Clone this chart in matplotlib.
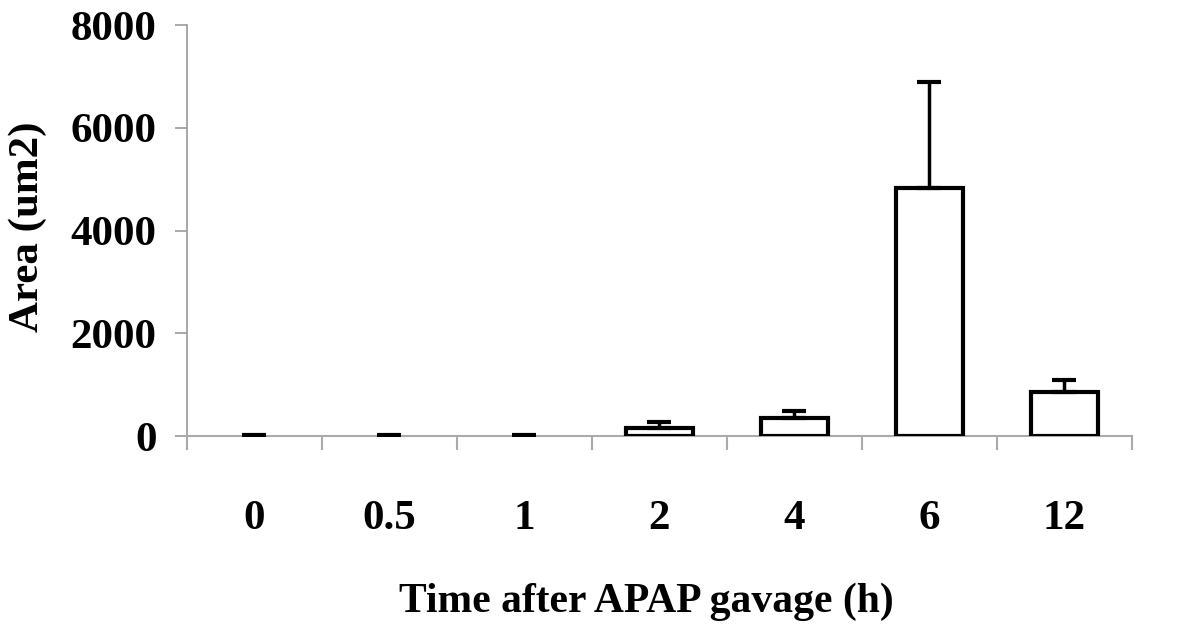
import matplotlib
matplotlib.use("Agg")
import matplotlib.pyplot as plt
import numpy as np

# Data
time_labels = ["0", "0.5", "1", "2", "4", "6", "12"]
area_mean = [0, 0, 0, 160, 360, 4830, 850]
area_err = [12, 12, 12, 115, 130, 2060, 240]

plt.rcParams['font.family'] = ['Liberation Serif', 'DejaVu Serif']
plt.rcParams['font.weight'] = 'bold'

fig = plt.figure(figsize=(12, 6.33), dpi=100)
ax = fig.add_axes([0.1558, 0.3112, 0.7875, 0.6493])

x = np.arange(len(time_labels))

# zero bars are not drawn in the original, only their error caps
edge_w = [0 if m == 0 else 3 for m in area_mean]
ax.bar(x, area_mean, width=0.49, color='white', edgecolor='black',
       linewidth=edge_w, zorder=3)

ax.errorbar(x, area_mean, yerr=[np.zeros(len(x)), area_err], fmt='none',
            ecolor='black', elinewidth=2.5, capsize=8.6, capthick=3, zorder=4)

ax.set_xlim(-0.5, len(x) - 0.5)
ax.set_ylim(0, 8000)
ax.set_yticks([0, 2000, 4000, 6000, 8000])

# category labels in the middle, tick marks between categories
ax.set_xticks(x)
ax.set_xticklabels(time_labels)
ax.set_xticks(np.arange(-0.5, len(x)), minor=True)
ax.tick_params(axis='x', which='major', length=0, pad=46, labelsize=31)
ax.tick_params(axis='x', which='minor', length=10, width=1.5, color='#aaaaaa')
ax.tick_params(axis='y', length=9, width=1.2, color='#999999', pad=13,
               labelsize=31)

for side in ['top', 'right']:
    ax.spines[side].set_visible(False)
ax.spines['left'].set_color('#999999')
ax.spines['left'].set_linewidth(1.2)
ax.spines['bottom'].set_color('#aaaaaa')
ax.spines['bottom'].set_linewidth(1.5)

ax.set_xlabel('Time after APAP gavage (h)', fontsize=30, fontweight='bold')
ax.xaxis.set_label_coords(0.486, -0.356)
ax.set_ylabel('Area (um2)', fontsize=31, fontweight='bold')
ax.yaxis.set_label_coords(-0.148, 0.508)

fig.savefig('out.png', dpi=100)
